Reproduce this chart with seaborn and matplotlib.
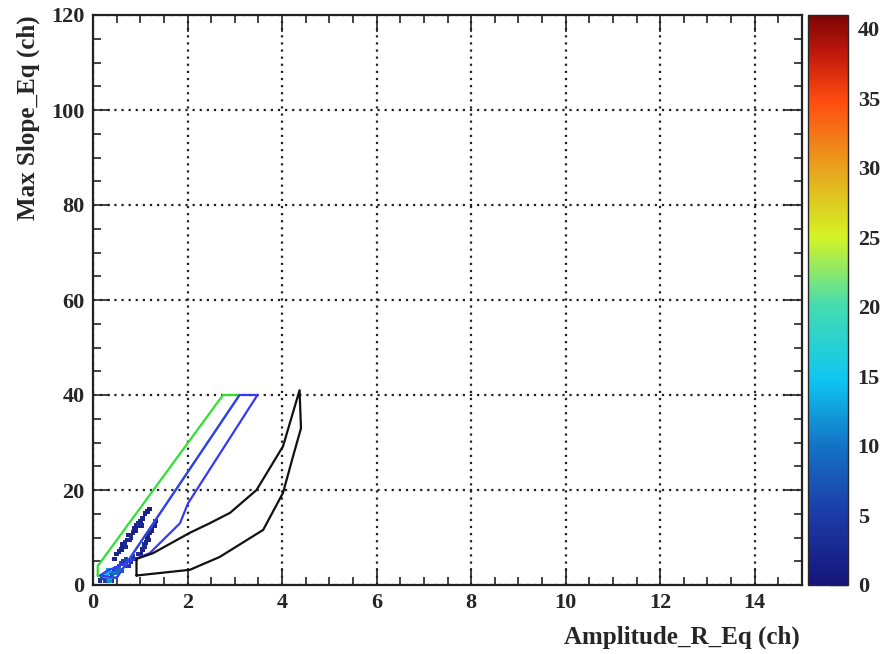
import matplotlib
matplotlib.use("Agg")
import matplotlib.pyplot as plt
import seaborn as sns
import numpy as np
import pandas as pd
from matplotlib.ticker import MultipleLocator
from matplotlib.cm import ScalarMappable
from matplotlib.colors import Normalize, LinearSegmentedColormap

# ---- data ----
# 2D histogram filled bins (x, y, counts)
hist_x = [0.45, 0.50, 0.55, 0.60, 0.62, 0.68, 0.72, 0.75, 0.80, 0.85, 0.88, 0.92, 0.95, 1.00,
          1.05, 1.10, 1.15, 1.20, 0.70, 0.78, 0.90, 1.02,
          1.00, 1.05, 1.08, 1.12, 1.15, 1.20, 1.25, 1.30, 1.32, 1.10, 1.18,
          0.15, 0.20, 0.25, 0.30, 0.30, 0.35, 0.40, 0.45, 0.50, 0.55, 0.60, 0.65, 0.70, 0.75,
          0.80, 0.85, 0.90, 0.95, 0.50, 0.60, 0.70, 0.40, 0.25, 0.35, 0.28, 0.33, 0.45, 0.55]
hist_y = [5.5, 6.5, 7.0, 7.5, 8.5, 9.0, 9.5, 10.5, 10.0, 11.0, 12.0, 12.5, 13.0, 13.5,
          14.0, 15.0, 15.5, 16.0, 8.0, 9.5, 11.5, 12.5,
          6.5, 7.5, 8.5, 9.0, 10.0, 11.0, 11.5, 12.5, 13.5, 8.0, 9.5,
          1.0, 1.5, 1.0, 1.5, 2.0, 2.5, 2.0, 3.0, 3.5, 4.0, 4.5, 5.0, 5.5, 4.0,
          5.0, 6.0, 5.5, 6.5, 2.5, 3.0, 4.0, 1.0, 2.0, 1.0, 2.0, 3.0, 2.5, 3.5]
hist_c = [2, 2, 3, 2, 2, 3, 2, 2, 3, 2, 2, 2, 3, 2,
          2, 2, 2, 1, 3, 3, 2, 2,
          2, 2, 3, 2, 2, 2, 2, 2, 1, 3, 2,
          4, 6, 5, 8, 10, 9, 7, 6, 8, 7, 6, 5, 6, 5,
          4, 4, 3, 3, 9, 8, 6, 5, 30, 12, 14, 13, 10, 9]

# contour polygons
green_x = [0.10, 0.10, 2.75, 3.10, 0.50, 0.10]
green_y = [2.0, 4.0, 40.0, 40.0, 1.5, 2.0]

blue_x = [0.50, 3.10, 3.48, 2.01, 1.84, 1.20, 0.85, 0.30, 0.15, 0.50]
blue_y = [1.5, 40.0, 40.0, 17.2, 13.0, 6.7, 5.3, 3.0, 2.0, 1.5]

black_x = [0.92, 0.92, 1.27, 2.05, 2.47, 2.90, 3.46, 4.02, 4.37, 4.40, 4.23, 4.02, 3.60, 2.68, 2.05, 0.92]
black_y = [2.0, 5.5, 6.7, 11.0, 13.0, 15.2, 20.0, 29.2, 41.0, 33.0, 27.0, 19.4, 11.6, 5.9, 3.2, 2.0]

x_ticks = [0, 2, 4, 6, 8, 10, 12, 14]
y_ticks = [0, 20, 40, 60, 80, 100, 120]
z_ticks = [0, 5, 10, 15, 20, 25, 30, 35, 40]

x_title = "Amplitude_R_Eq (ch)"
y_title = "Max Slope_Eq (ch)"

# ---- figure ----
sns.set_theme(style="white")
plt.rcParams['font.family'] = ['Liberation Serif', 'DejaVu Serif']
plt.rcParams['font.weight'] = 'bold'

fig = plt.figure(figsize=(8.85, 6.54), dpi=100)
W, H = 885, 654
ax = fig.add_axes([93 / W, (H - 585) / H, (802 - 93) / W, (585 - 15) / H])
cax = fig.add_axes([808 / W, (H - 585) / H, (848 - 808) / W, (585 - 15) / H])

zmin, zmax = 0, 41
cmap = LinearSegmentedColormap.from_list(
    "root_rainbow",
    [(0.00, "#15157a"), (0.12, "#1d3aa6"), (0.24, "#1470c4"), (0.36, "#0ec6f0"),
     (0.49, "#44dcb0"), (0.61, "#d4f424"), (0.73, "#e8a41e"), (0.85, "#ff4c10"),
     (0.93, "#c41a0c"), (1.00, "#7e0404")])

hist_df = pd.DataFrame({"x": hist_x, "y": hist_y, "c": hist_c})
sns.scatterplot(data=hist_df, x="x", y="y", hue="c", palette=cmap, hue_norm=(zmin, zmax),
                marker="s", s=11, edgecolor="none", legend=False, ax=ax, zorder=3)

for px, py, col in [(green_x, green_y, "#30e030"), (blue_x, blue_y, "#3838f8"), (black_x, black_y, "#111111")]:
    sns.lineplot(x=px, y=py, sort=False, estimator=None, color=col, lw=1.6, ax=ax, zorder=4)

ax.set_xlim(0, 15)
ax.set_ylim(0, 120)
ax.set_xticks(x_ticks)
ax.set_yticks(y_ticks)
ax.xaxis.set_minor_locator(MultipleLocator(0.5))
ax.yaxis.set_minor_locator(MultipleLocator(5))
ax.tick_params(which='both', direction='in', top=True, right=True, bottom=True, left=True,
               color='#222222', width=1.2)
ax.tick_params(which='major', length=12, labelsize=16, pad=6)
ax.tick_params(which='minor', length=5.5)
ax.grid(True, which='major', color='#222222', linestyle=(0, (1, 2.2)), linewidth=1.6)
for lab in ax.get_xticklabels() + ax.get_yticklabels():
    lab.set_fontweight('bold')
for s in ax.spines.values():
    s.set_color('#222222')
    s.set_linewidth(1.6)

ax.set_xlabel("")
ax.set_ylabel("")
fig.text(800 / W, 1 - 637 / H, x_title, ha='right', va='center', fontsize=18, fontweight='bold')
fig.text(28 / W, 1 - 15 / H, y_title, ha='center', va='top', rotation=90, fontsize=18, fontweight='bold')

# colour bar
sm = ScalarMappable(norm=Normalize(zmin, zmax), cmap=cmap)
cb = fig.colorbar(sm, cax=cax)
cb.set_ticks(z_ticks)
cb.outline.set_linewidth(1.0)
cax.tick_params(direction='in', length=13, width=1.6, color='#111111', labelsize=16, pad=7, right=True)
for lab in cax.get_yticklabels():
    lab.set_fontweight('bold')

fig.savefig("out.png", dpi=100)
